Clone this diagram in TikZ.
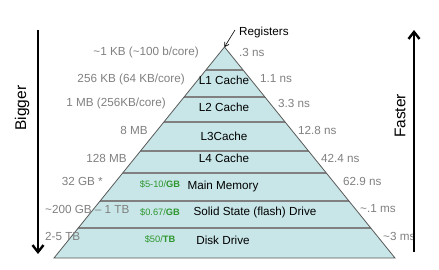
\documentclass[tikz,border=0pt]{standalone}
\usepackage{fontspec}
\setmainfont{Liberation Sans}
\usetikzlibrary{arrows.meta}

\definecolor{bandfill}{RGB}{200,230,232}
\definecolor{sizegray}{RGB}{128,128,128}
\definecolor{price}{RGB}{46,150,46}

\begin{document}
\begin{tikzpicture}[x=1pt, y=-1pt,
        size/.style={text=sizegray, font=\fontsize{11.7}{13}\selectfont, inner sep=0pt},
        level/.style={font=\fontsize{11.7}{13}\selectfont, inner sep=0pt},
        cost/.style={text=price, font=\fontsize{9.3}{11}\selectfont, inner sep=0pt},
        bigarrow/.style={line width=2.4pt, -{Straight Barb[length=7pt, width=11pt, line width=2.4pt]}}]
        \useasboundingbox (0,0) rectangle (439,269);

        % Pyramid
        \coordinate (apex) at (224.5,47);
        \coordinate (bl) at (54,258);
        \coordinate (br) at (395,258);
        \fill[bandfill] (apex) -- (br) -- (bl) -- cycle;
        \begin{scope}
            \clip (apex) -- (br) -- (bl) -- cycle;
            \foreach \y in {70,97,122,151,173,201,228}
                \draw[sizegray, line width=1.1pt] (0,\y) -- (439,\y);
        \end{scope}
        \draw[black!65, line width=0.8pt] (apex) -- (br) -- (bl) -- cycle;

        % Levels
        \node[level] (l1) at (224,80) {L1 Cache};
        \node[level] (l2) at (224,107) {L2 Cache};
        \node[level] (l3) at (224,136) {L3Cache};
        \node[level] (l4) at (224,158) {L4 Cache};
        \node[level] (mem) at (223,186) {Main Memory};
        \node[level] (ssd) at (255,212) {Solid State (flash) Drive};
        \node[level] (disk) at (223,240) {Disk Drive};

        % Prices
        \node[cost] (pmem) at (160,184) {\$5-10/\textbf{GB}};
        \node[cost] (pssd) at (160,212) {\$0.67/\textbf{GB}};
        \node[cost] (pdisk) at (160,239) {\$50/\textbf{TB}};

        % Sizes
        \node[size, anchor=east] (s0) at (199,52) {\textasciitilde1 KB (\textasciitilde100 b/core)};
        \node[size, anchor=east] (s1) at (185,79) {256 KB (64 KB/core)};
        \node[size, anchor=east] (s2) at (166,103) {1 MB (256KB/core)};
        \node[size, anchor=east] (s3) at (148,130) {8 MB};
        \node[size, anchor=east] (s4) at (127,158) {128 MB};
        \node[size, anchor=east] (s5) at (103,181) {32 GB *};
        \node[size, anchor=west] (s6) at (45,209) {\textasciitilde200 GB -- 1 TB};
        \node[size, anchor=west] (s7) at (45,236) {2-5 TB};

        % Latencies
        \node[size, anchor=west] (t0) at (239,52) {.3 ns};
        \node[size, anchor=west] (t1) at (260,79) {1.1 ns};
        \node[size, anchor=west] (t2) at (278,103) {3.3 ns};
        \node[size, anchor=west] (t3) at (298,130) {12.8 ns};
        \node[size, anchor=west] (t4) at (321,158) {42.4 ns};
        \node[size, anchor=west] (t5) at (343,181) {62.9 ns};
        \node[size, anchor=west] (t6) at (360,209) {\textasciitilde.1 ms};
        \node[size, anchor=west] (t7) at (383,236) {\textasciitilde3 ms};

        % Registers at the tip
        \node[level, anchor=west] (reg) at (239,32) {Registers};
        \coordinate (regtail) at (235,30);
        \draw[-{Straight Barb[length=4pt, width=5pt]}, line width=0.6pt] (regtail) -- (apex);

        % Bigger / Faster
        \coordinate (bigtop) at (38,30);
        \coordinate (bigbot) at (38,254);
        \draw[bigarrow] (bigtop) -- (bigbot);
        \node[rotate=90, font=\fontsize{15.5}{17}\selectfont, inner sep=0pt] (bigger) at (22,108) {Bigger};

        \coordinate (fastbot) at (414,252);
        \coordinate (fasttop) at (414,30);
        \draw[bigarrow] (fastbot) -- (fasttop);
        \node[rotate=90, font=\fontsize{15.5}{17}\selectfont, inner sep=0pt] (faster) at (400,116) {Faster};
\end{tikzpicture}
\end{document}
